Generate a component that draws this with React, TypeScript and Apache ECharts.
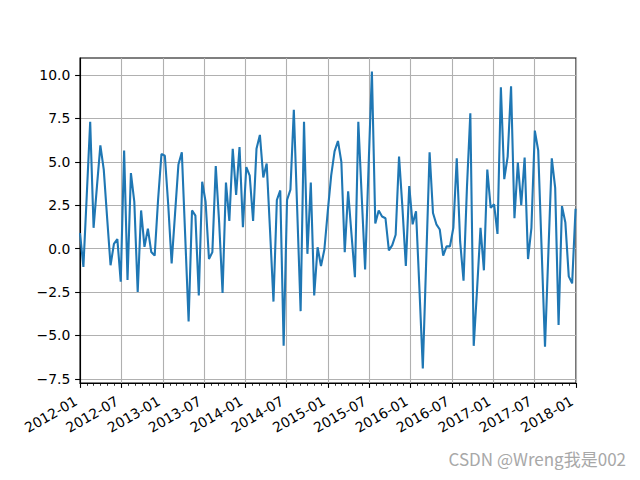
import React, { useEffect, useRef } from "react";
import * as echarts from "echarts";

// Series values, one every 15 days starting 2012-01-01
const START_DATE = "2012-01-01";
const STEP_DAYS = 15;
const values: number[] = [
  0.9, -1.05, 3.1, 7.3, 1.2, 3.6, 5.95, 4.55, 1.75, -0.96,
  0.27, 0.55, -1.9, 5.65, -1.8, 4.35, 2.7, -2.5, 2.2, 0.1,
  1.15, -0.2, -0.4, 2.8, 5.45, 5.35, 2.5, -0.85, 2.0, 4.85,
  5.55, 0.7, -4.2, 2.2, 1.9, -2.7, 3.85, 2.7, -0.6, -0.2,
  4.75, 1.5, -2.55, 3.8, 1.6, 5.75, 3.1, 5.85, 1.23, 4.7,
  4.2, 1.6, 5.75, 6.55, 4.1, 4.9, 1.0, -3.05, 2.8, 3.35,
  -5.6, 2.8, 3.4, 8.0, 2.2, -3.6, 7.3, -0.3, 3.8, -2.7,
  0.08, -1.0, -0.05, 2.15, 4.2, 5.6, 6.2, 5.0, -0.2, 3.3,
  0.8, -1.65, 7.3, 3.0, -1.2, 4.6, 10.2, 1.45, 2.2, 1.85,
  1.75, -0.1, 0.2, 0.8, 5.3, 2.35, -1.0, 3.6, 1.4, 2.15,
  -2.3, -6.9, -0.7, 5.55, 2.05, 1.4, 1.1, -0.4, 0.13, 0.13,
  1.2, 5.2, 0.4, -1.85, 3.5, 7.8, -5.6, -2.3, 1.2, -1.25,
  4.55, 2.35, 2.55, 0.85, 9.3, 4.0, 5.3, 9.35, 1.75, 4.95,
  2.5, 5.25, -0.6, 1.2, 6.8, 5.65, 0.0, -5.65, -0.2, 5.2,
  3.5, -4.4, 2.45, 1.5, -1.6, -2.0, 2.3,
];

const xTickLabels = [
  "2012-01", "2012-07", "2013-01", "2013-07", "2014-01", "2014-07", "2015-01",
  "2015-07", "2016-01", "2016-07", "2017-01", "2017-07", "2018-01",
];
const yTicks = [-7.5, -5.0, -2.5, 0.0, 2.5, 5.0, 7.5, 10.0];
const yMin = -7.74;
const yMax = 10.98;

const DAY_MS = 86400000;
const startMs = Date.parse(START_DATE + "T00:00:00Z");
const ymToDay = (ym: string) => {
  const [y, m] = ym.split("-").map(Number);
  return (Date.UTC(y, m - 1, 1) - startMs) / DAY_MS;
};
const xMajor = xTickLabels.map(ymToDay);
const xMin = xMajor[0];
const xMax = xMajor[xMajor.length - 1];
const xMinor: number[] = [];
{
  const [y0, m0] = xTickLabels[0].split("-").map(Number);
  const [y1, m1] = xTickLabels[xTickLabels.length - 1].split("-").map(Number);
  for (let k = 0; k <= (y1 - y0) * 12 + (m1 - m0); k++) {
    xMinor.push((Date.UTC(y0, m0 - 1 + k, 1) - startMs) / DAY_MS);
  }
}

const FONT = "DejaVu Sans";

export default function App() {
  const ref = useRef<HTMLDivElement>(null);
  useEffect(() => {
    if (!ref.current) return;
    const chart = echarts.init(ref.current, undefined, { renderer: "svg" });
    const data = values.map((v, i) => [i * STEP_DAYS, v]);
    chart.setOption({
      animation: false,
      backgroundColor: "#ffffff",
      grid: {
        left: 80,
        top: 58,
        width: 496,
        height: 325,
        show: true,
        borderColor: "#000000",
        borderWidth: 1.1,
        backgroundColor: "transparent",
      },
      xAxis: [
        {
          type: "value",
          min: xMin,
          max: xMax,
          position: "bottom",
          axisLine: { show: true, onZero: false, lineStyle: { color: "#000", width: 1.1 } },
          axisTick: {
            show: true,
            length: 4.9,
            customValues: xMajor,
            lineStyle: { color: "#000", width: 1.1 },
          },
          axisLabel: {
            show: true,
            customValues: xMajor,
            rotate: 30,
            margin: 14.5,
            padding: [0, 4.6, 0, 0],
            color: "#000",
            fontFamily: FONT,
            fontSize: 13.9,
            formatter: (v: number) => {
              const idx = xMajor.findIndex((d) => Math.abs(d - v) < 0.5);
              return idx >= 0 ? xTickLabels[idx] : "";
            },
          },
          splitLine: { show: true, lineStyle: { color: "#b0b0b0", width: 1.1 } },
        },
        {
          type: "value",
          min: xMin,
          max: xMax,
          position: "bottom",
          offset: 0,
          axisLine: { show: false, onZero: false },
          axisTick: {
            show: true,
            length: 2.8,
            customValues: xMinor,
            lineStyle: { color: "#000", width: 0.8 },
          },
          axisLabel: { show: false },
          splitLine: { show: false },
        },
      ],
      yAxis: {
        type: "value",
        min: yMin,
        max: yMax,
        axisLine: { show: true, onZero: false, lineStyle: { color: "#000", width: 1.1 } },
        axisTick: {
          show: true,
          length: 4.9,
          customValues: yTicks,
          lineStyle: { color: "#000", width: 1.1 },
        },
        axisLabel: {
          show: true,
          customValues: yTicks,
          margin: 9.7,
          color: "#000",
          fontFamily: FONT,
          fontSize: 13.9,
          formatter: (v: number) => (v < 0 ? "\u2212" : "") + Math.abs(v).toFixed(1),
        },
        splitLine: { show: true, lineStyle: { color: "#b0b0b0", width: 1.1 } },
      },
      series: [
        {
          type: "line",
          xAxisIndex: 0,
          data,
          showSymbol: false,
          symbol: "none",
          lineStyle: { color: "#1f77b4", width: 2.1 },
          z: 3,
        },
      ],
      graphic: [
        {
          type: "text",
          right: 14,
          top: 450,
          style: {
            text: "CSDN @Wreng我是002",
            fill: "#a8a8a8",
            font: '17px "Noto Sans CJK SC"',
          },
        },
      ],
    });
    return () => chart.dispose();
  }, []);
  return (
    <div
      ref={ref}
      style={{ position: "absolute", left: 0, top: 0, width: 640, height: 480 }}
    />
  );
}
